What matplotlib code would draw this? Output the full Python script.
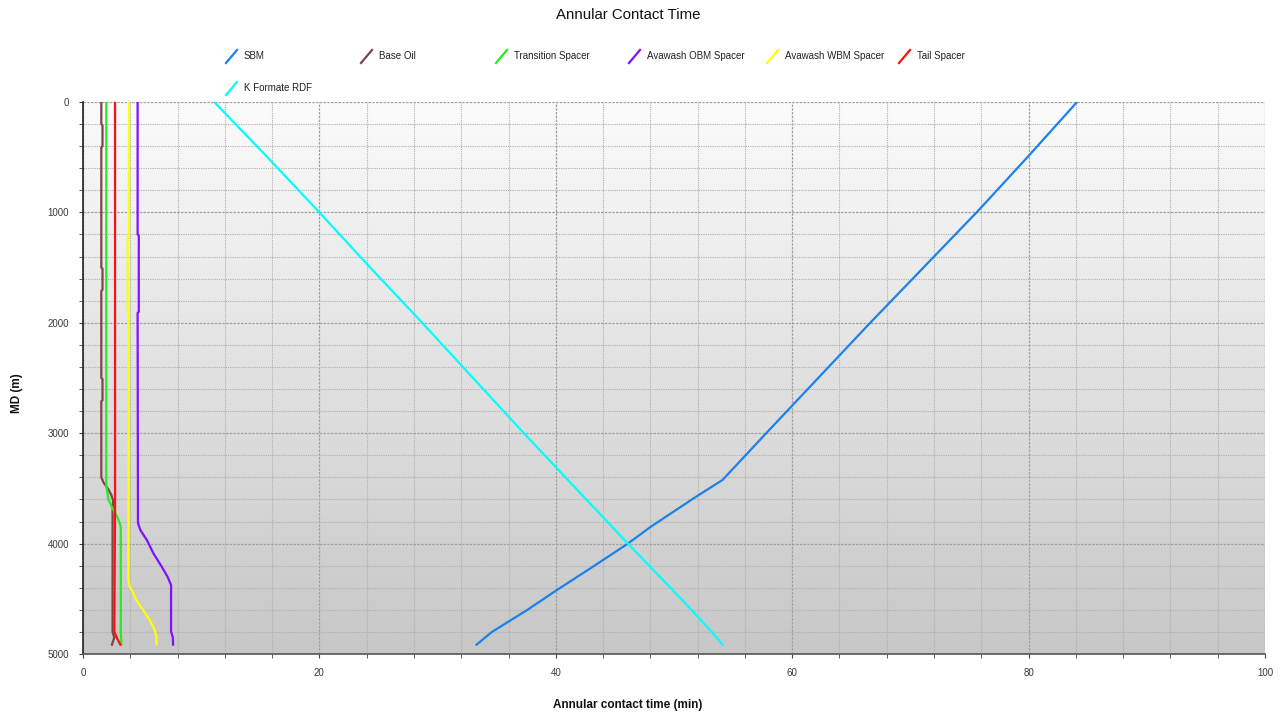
import numpy as np
import matplotlib
matplotlib.use("Agg")
import matplotlib.pyplot as plt
from matplotlib.lines import Line2D
from matplotlib.ticker import MultipleLocator

plt.rcParams['font.family'] = ['Liberation Sans', 'DejaVu Sans']

# ---------------- data ----------------
series_names = ["SBM", "Base Oil", "Transition Spacer", "Avawash OBM Spacer",
                "Avawash WBM Spacer", "Tail Spacer", "K Formate RDF"]
series_colors = ["#1a82ea", "#804444", "#22ee22", "#8010ff", "#ffff00", "#ff1010", "#00ffff"]

sbm_depth = [0, 500, 1000, 1500, 2000, 2500, 3000, 3424, 3587, 3850, 4000,
             4212, 4420, 4600, 4800, 4915]
sbm_time = [84.1, 79.9, 75.6, 71.1, 66.6, 62.2, 57.8, 54.1, 51.7, 48.0, 46.1,
            43.1, 40.1, 37.6, 34.6, 33.3]

base_depth = [0, 200, 210, 400, 410, 1500, 1510, 1700, 1710, 2500, 2510, 2700, 2710,
              3400, 3450, 3500, 3560, 3610, 3700, 4800, 4850, 4915]
base_time = [1.55, 1.55, 1.65, 1.65, 1.55, 1.55, 1.65, 1.65, 1.55, 1.55, 1.65, 1.65, 1.55,
             1.55, 1.75, 2.1, 2.4, 2.55, 2.5, 2.5, 2.65, 2.45]

trans_depth = [0, 3480, 3530, 3600, 3680, 3760, 3813, 3850, 4800, 4915]
trans_time = [1.97, 1.97, 2.05, 2.15, 2.5, 2.9, 3.1, 3.2, 3.2, 3.25]

obm_depth = [0, 1200, 1210, 1900, 1910, 3813, 3877, 3967, 4087, 4208, 4299, 4375,
             4797, 4850, 4915]
obm_time = [4.62, 4.62, 4.72, 4.72, 4.62, 4.65, 4.85, 5.4, 5.95, 6.65, 7.15, 7.45,
            7.45, 7.6, 7.62]

wbm_depth = [0, 1200, 1210, 1900, 1910, 4330, 4390, 4450, 4511, 4601, 4692, 4783,
             4843, 4915]
wbm_time = [3.89, 3.89, 3.78, 3.78, 3.89, 3.83, 3.95, 4.25, 4.51, 5.08, 5.64, 6.07,
            6.2, 6.22]

tail_depth = [0, 3700, 4800, 4850, 4915]
tail_time = [2.71, 2.71, 2.65, 2.85, 3.16]

kf_depth = [0, 500, 1000, 1500, 2000, 2500, 3000, 3500, 4000, 4500, 4800, 4915]
kf_time = [11.1, 15.6, 20.0, 24.3, 28.7, 33.0, 37.3, 41.7, 46.1, 50.6, 53.2, 54.1]

series = [(sbm_time, sbm_depth), (base_time, base_depth), (trans_time, trans_depth),
          (obm_time, obm_depth), (wbm_time, wbm_depth), (tail_time, tail_depth),
          (kf_time, kf_depth)]

# ---------------- figure ----------------
W, H = 1282, 715
fig = plt.figure(figsize=(W / 100, H / 100), dpi=100)
fig.patch.set_facecolor("white")
ax = fig.add_axes([83 / W, 1 - 654 / H, (1265 - 83) / W, (654 - 102) / H])

# gradient background
grad = np.linspace(0, 1, 256).reshape(-1, 1)
top_c = np.array([0.985, 0.985, 0.985])
bot_c = np.array([0.78, 0.78, 0.78])
img = top_c[None, None, :] * (1 - grad[:, :, None]) + bot_c[None, None, :] * grad[:, :, None]
ax.imshow(img, extent=[0, 1, 0, 1], transform=ax.transAxes, aspect="auto",
          origin="upper", zorder=0)

ax.set_xlim(0, 100)
ax.set_ylim(5000, 0)

ax.xaxis.set_major_locator(MultipleLocator(20))
ax.xaxis.set_minor_locator(MultipleLocator(4))
ax.yaxis.set_major_locator(MultipleLocator(1000))
ax.yaxis.set_minor_locator(MultipleLocator(200))

ax.grid(which="major", color="#a0a0a0", linestyle=(0, (2, 1)), linewidth=0.9, zorder=1)
ax.grid(which="minor", color="#b0b0b0", linestyle=(0, (1, 1)), linewidth=0.8, zorder=1)
ax.set_axisbelow(True)

for s in ["top", "right"]:
    ax.spines[s].set_visible(False)
ax.spines["left"].set_color("#222222")
ax.spines["bottom"].set_color("#555555")
ax.spines["left"].set_linewidth(1.2)
ax.spines["bottom"].set_linewidth(1.2)

ax.tick_params(axis="both", which="both", direction="out", colors="#444444",
               labelcolor="#3a3a3a", labelsize=7)
ax.tick_params(axis="both", which="major", length=3)
ax.tick_params(axis="both", which="minor", length=3)
ax.tick_params(axis="x", pad=7)
ax.tick_params(axis="y", pad=7)

for (xv, yv), c in zip(series, series_colors):
    ax.plot(xv, yv, color=c, linewidth=1.6, zorder=3, solid_joinstyle="round")

fig.text(628 / W, 1 - 705 / H, "Annular contact time (min)", ha="center", va="center",
         fontsize=8.5, fontweight="bold", color="#111111")
fig.text(17 / W, 1 - 393 / H, "MD (m)", ha="center", va="center", rotation=90,
         fontsize=8.5, fontweight="bold", color="#111111")

fig.text(628 / W, 1 - 15 / H, "Annular Contact Time", ha="center", va="center",
         fontsize=10.8, color="#111111")

# legend (custom, diagonal line handles)
col_x = [226, 361, 496, 629, 767, 899]
row_y = [56, 88]
for i, (name, c) in enumerate(zip(series_names, series_colors)):
    cx = col_x[i % 6]
    cy = row_y[i // 6]
    fig.add_artist(Line2D([cx / W, (cx + 11) / W], [1 - (cy + 7) / H, 1 - (cy - 6) / H],
                          color=c, linewidth=1.6, transform=fig.transFigure))
    fig.text((cx + 18) / W, 1 - cy / H, name, ha="left", va="center",
             fontsize=7, color="#222222")

fig.savefig("out.png", dpi=100)
